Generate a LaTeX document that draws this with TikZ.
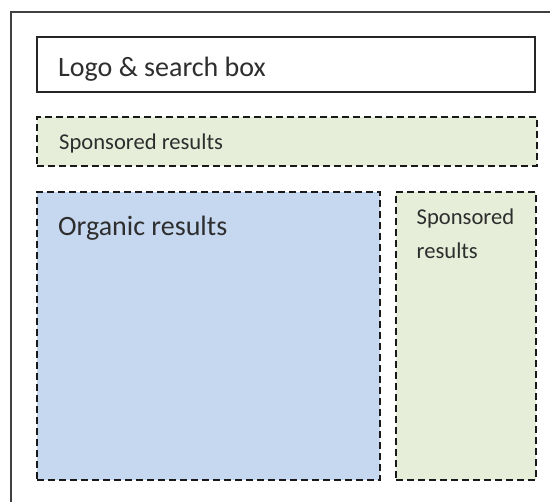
\documentclass[tikz,border=0pt]{standalone}
\usepackage{fontspec}
\setmainfont{Carlito}
\usetikzlibrary{positioning}
\definecolor{sponsorgreen}{HTML}{E6EED9}
\definecolor{organicblue}{HTML}{C6D7F0}

\begin{document}
\begin{tikzpicture}[x=1pt, y=-1pt,
    caja/.style={draw=black!85, line width=1.3pt, anchor=north west, inner sep=0pt, outer sep=0pt},
    punteada/.style={caja, draw=black!90, dash pattern=on 7pt off 4pt, line width=2pt},
    textogrande/.style={anchor=base west, inner sep=0pt, text=black!82, font=\fontsize{28}{34}\selectfont},
    textochico/.style={anchor=base west, inner sep=0pt, text=black!82, font=\fontsize{22.6}{27}\selectfont}]
    % Margenes de la pagina
    \useasboundingbox (0,0) rectangle (550,502);

    % Marco exterior (recortado a la derecha y abajo)
    \draw[black!75, line width=1.3pt] (11,502) -- (11,12) -- (550,12);

    % Cabecera
    \node[caja, minimum width=498pt, minimum height=55pt] (logo) at (37,37) {};
    \node[textogrande] (logotxt) at ([shift={(21,40)}]logo.north west) {Logo \& search box};

    % Anuncios arriba
    \node[punteada, fill=sponsorgreen, minimum width=500pt, minimum height=49pt] (sparriba) at (37,117) {};
    \node[textochico] (sparribatxt) at ([shift={(22,33)}]sparriba.north west) {Sponsored results};

    % Resultados organicos
    \node[punteada, fill=organicblue, minimum width=343pt, minimum height=288pt] (organic) at (37,192) {};
    \node[textogrande] (organictxt) at ([shift={(21,44)}]organic.north west) {Organic results};

    % Anuncios a la derecha
    \node[punteada, fill=sponsorgreen, minimum width=140pt, minimum height=288pt] (spderecha) at (396,192) {};
    \node[textochico] (spdertxt) at ([shift={(20.5,33)}]spderecha.north west) {Sponsored};
    \node[textochico] (spdertxtb) at ([yshift=-34pt]spdertxt.base west) {results};
\end{tikzpicture}
\end{document}
